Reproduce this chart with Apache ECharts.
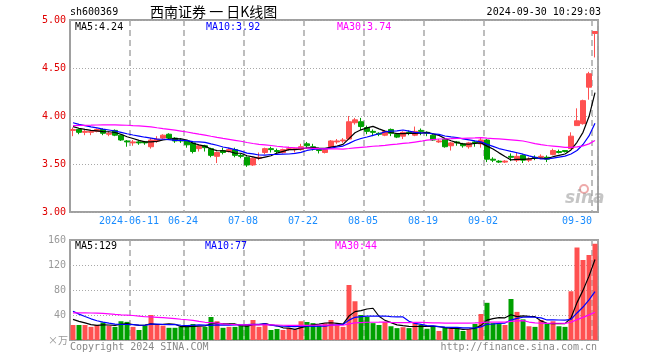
<!DOCTYPE html>
<html><head><meta charset="utf-8">
<script src="https://cdn.jsdelivr.net/npm/echarts@6/dist/echarts.min.js"></script>
<style>html,body{margin:0;padding:0;background:#fff}#c{width:660px;height:360px}</style>
</head><body><div id="c"></div>
<script>
const dates = [
'2024-05-27','2024-05-28','2024-05-29','2024-05-30','2024-05-31',
'2024-06-03','2024-06-04','2024-06-05','2024-06-06','2024-06-07','2024-06-11','2024-06-12','2024-06-13','2024-06-14',
'2024-06-17','2024-06-18','2024-06-19','2024-06-20','2024-06-21','2024-06-24','2024-06-25','2024-06-26','2024-06-27','2024-06-28',
'2024-07-01','2024-07-02','2024-07-03','2024-07-04','2024-07-05','2024-07-08','2024-07-09','2024-07-10','2024-07-11','2024-07-12',
'2024-07-15','2024-07-16','2024-07-17','2024-07-18','2024-07-19','2024-07-22','2024-07-23','2024-07-24','2024-07-25','2024-07-26',
'2024-07-29','2024-07-30','2024-07-31',
'2024-08-01','2024-08-02','2024-08-05','2024-08-06','2024-08-07','2024-08-08','2024-08-09','2024-08-12','2024-08-13','2024-08-14',
'2024-08-15','2024-08-16','2024-08-19','2024-08-20','2024-08-21','2024-08-22','2024-08-23','2024-08-26','2024-08-27','2024-08-28',
'2024-08-29','2024-08-30',
'2024-09-02','2024-09-03','2024-09-04','2024-09-05','2024-09-06','2024-09-09','2024-09-10','2024-09-11','2024-09-12','2024-09-13',
'2024-09-18','2024-09-19','2024-09-20','2024-09-23','2024-09-24','2024-09-25','2024-09-26','2024-09-27','2024-09-30'];

const opens = [3.85,3.86,3.83,3.83,3.84,3.86,3.81,3.85,3.80,3.74,3.72,3.73,3.73,3.68,3.74,3.77,3.81,3.77,3.75,3.74,
3.72,3.66,3.69,3.66,3.58,3.64,3.63,3.65,3.59,3.57,3.49,3.56,3.62,3.66,3.64,3.62,3.65,3.65,3.65,3.71,
3.68,3.65,3.62,3.68,3.73,3.74,3.76,3.93,3.94,3.88,3.84,3.82,3.80,3.86,3.81,3.79,3.83,3.80,3.85,3.83,
3.80,3.73,3.76,3.69,3.73,3.71,3.68,3.73,3.71,3.75,3.55,3.53,3.52,3.58,3.54,3.59,3.54,3.57,3.57,3.57,
3.60,3.63,3.64,3.66,3.90,3.92,4.30,4.86];
const closes = [3.86,3.83,3.84,3.84,3.86,3.82,3.82,3.80,3.75,3.73,3.73,3.72,3.72,3.75,3.76,3.80,3.77,3.74,3.74,3.70,
3.63,3.69,3.67,3.59,3.62,3.62,3.65,3.59,3.58,3.49,3.56,3.57,3.66,3.65,3.63,3.65,3.66,3.66,3.68,3.69,
3.66,3.64,3.65,3.74,3.74,3.75,3.94,3.96,3.89,3.84,3.83,3.81,3.84,3.82,3.78,3.83,3.82,3.84,3.84,3.82,
3.75,3.74,3.68,3.72,3.72,3.69,3.72,3.72,3.75,3.55,3.54,3.52,3.53,3.57,3.58,3.54,3.55,3.56,3.58,3.55,
3.64,3.62,3.63,3.79,3.95,4.16,4.44,4.88];
const lows = [3.79,3.81,3.80,3.80,3.83,3.80,3.79,3.79,3.74,3.68,3.69,3.70,3.70,3.66,3.72,3.76,3.76,3.72,3.72,3.67,
3.61,3.63,3.63,3.57,3.51,3.60,3.62,3.57,3.56,3.47,3.48,3.54,3.60,3.62,3.61,3.61,3.64,3.62,3.64,3.66,
3.64,3.61,3.61,3.67,3.71,3.72,3.75,3.91,3.85,3.81,3.79,3.79,3.79,3.79,3.77,3.76,3.80,3.79,3.80,3.79,
3.74,3.72,3.67,3.64,3.69,3.67,3.66,3.68,3.67,3.52,3.52,3.51,3.51,3.53,3.52,3.51,3.52,3.54,3.55,3.52,
3.59,3.61,3.62,3.66,3.90,3.91,4.17,4.61];
const highs = [3.88,3.87,3.86,3.85,3.87,3.87,3.84,3.86,3.81,3.75,3.75,3.74,3.74,3.77,3.79,3.81,3.82,3.78,3.77,3.75,
3.73,3.70,3.70,3.67,3.63,3.67,3.67,3.67,3.61,3.58,3.57,3.62,3.67,3.68,3.66,3.66,3.68,3.67,3.71,3.73,
3.71,3.66,3.66,3.75,3.76,3.77,4.00,3.98,3.98,3.90,3.86,3.83,3.85,3.87,3.82,3.84,3.85,3.89,3.87,3.84,
3.81,3.76,3.77,3.73,3.74,3.72,3.73,3.74,3.78,3.76,3.57,3.54,3.54,3.61,3.62,3.60,3.57,3.59,3.60,3.59,
3.66,3.65,3.64,3.83,4.08,4.17,4.46,4.88];
const volumes = [24,24,24,21,24,28,23,21,30,29,21,16,23,40,24,23,19.5,19.5,21,24,
25.6,21,21,36.8,30,19.5,21,21,24,25.6,32,21,27,16,17.6,16,19,17,30,28.8,
27,23.5,26.7,32,24,21,88,62,40,37,27,24,29,22,19,20.5,19,27.5,24,18,
22,14.5,20,18,18,14.5,17.5,25.6,41.6,59.5,27,25.5,24,65.6,45,33,22,21,32,25.6,
30,22,21,78,148,128,136,154];

// trading days before the window (inferred from the start of the MA lines)
const histCloses = [3.78,3.80,3.82,3.79,3.77,3.80,3.83,3.81,3.79,3.82,3.80,
3.88,3.95,4.02,4.05,4.01,3.98,4.03,4.00,3.98,4.00,3.98,3.96,3.97,3.94,3.92,3.90,3.89,3.88];
const histVolumes = [25,24,26,30,38,45,50,48,44,40,46,52,48,44,42,40,45,50,48,56,
70,62,58,55,50,40,36,35,30];

const labelDates = ['2024-06-11','2024-06-24','2024-07-08','2024-07-22','2024-08-05','2024-08-19','2024-09-02','2024-09-30'];
const priceMin = 3, priceMax = 5, priceStep = 0.5;
const volMin = 0, volMax = 160, volStep = 40;

function ma(n, hist, arr) {
  const all = hist.concat(arr);
  return arr.map((_, i) => {
    let s = 0;
    for (let k = 0; k < n; k++) s += all[hist.length + i - k];
    return +(s / n).toFixed(4);
  });
}
const ma5 = ma(5, histCloses, closes), ma10 = ma(10, histCloses, closes), ma30 = ma(30, histCloses, closes);
const vma5 = ma(5, histVolumes, volumes), vma10 = ma(10, histVolumes, volumes), vma30 = ma(30, histVolumes, volumes);
const last = dates.length - 1;

const RED = '#ff5050', GREEN = '#00a000';
const MONO = 'DejaVu Sans Mono';
const candle = dates.map((d, i) => [opens[i], closes[i], lows[i], highs[i]]);
const volData = volumes.map((v, i) => ({ value: v, itemStyle: { color: closes[i] >= opens[i] ? RED : GREEN } }));

const isLabel = (i) => labelDates.indexOf(dates[i]) >= 0;
const vSplit = { show: true, interval: (i) => isLabel(i), lineStyle: { color: '#a8a8a8', type: [6, 4], width: 1.5 } };
const hSplit = { show: true, lineStyle: { color: '#a8a8a8', type: [1, 2], width: 1 } };

function txt(text, x, y, color, font, align) {
  return { type: 'text', x: x, y: y, silent: true, z: 100,
    style: { text: text, fill: color, font: font, align: align || 'left', verticalAlign: 'middle',
      textAlign: align || 'left', textVerticalAlign: 'middle' } };
}
const f10 = '10px "' + MONO + '"';

const chart = echarts.init(document.getElementById('c'));
chart.setOption({
  animation: false,
  backgroundColor: '#fff',
  grid: [
    { left: 70, top: 20, width: 528, height: 192, show: true, borderColor: '#a0a0a0', borderWidth: 2, backgroundColor: 'transparent' },
    { left: 70, top: 240, width: 528, height: 100, show: true, borderColor: '#a0a0a0', borderWidth: 2, backgroundColor: 'transparent' }
  ],
  xAxis: [
    { type: 'category', gridIndex: 0, data: dates, boundaryGap: true,
      axisLine: { show: false }, axisTick: { show: false },
      axisLabel: { show: true, interval: (i) => isLabel(i), margin: 4, color: '#1a8cff', fontFamily: MONO, fontSize: 10,
        formatter: (v, i) => {
          const t = (v === labelDates[0]) ? v : v.slice(5);
          return (i === last) ? '{b|' + t + '}' : '{a|' + t + '}';
        },
        rich: { a: { padding: [0, 8, 0, 0], color: '#1a8cff', fontFamily: MONO, fontSize: 10 },
                b: { padding: [0, 36, 0, 0], color: '#1a8cff', fontFamily: MONO, fontSize: 10 } } },
      splitLine: vSplit },
    { type: 'category', gridIndex: 1, data: dates, boundaryGap: true,
      axisLine: { show: false }, axisTick: { show: false }, axisLabel: { show: false },
      splitLine: vSplit }
  ],
  yAxis: [
    { type: 'value', gridIndex: 0, min: priceMin, max: priceMax, interval: priceStep,
      axisLine: { show: false }, axisTick: { show: false },
      axisLabel: { margin: 4, color: '#e00000', fontFamily: MONO, fontSize: 10, formatter: (v) => v.toFixed(2) },
      splitLine: hSplit },
    { type: 'value', gridIndex: 1, min: volMin, max: volMax, interval: volStep,
      axisLine: { show: false }, axisTick: { show: false },
      axisLabel: { margin: 4, color: '#999', fontFamily: MONO, fontSize: 10, formatter: (v) => v === 0 ? '' : String(v) },
      splitLine: hSplit }
  ],
  series: [
    { type: 'candlestick', xAxisIndex: 0, yAxisIndex: 0, data: candle, barWidth: 5, barMinWidth: 5,
      itemStyle: { color: RED, color0: GREEN, borderColor: RED, borderColor0: GREEN, borderWidth: 1 } },
    { type: 'line', xAxisIndex: 0, yAxisIndex: 0, data: ma5, showSymbol: false, lineStyle: { color: '#000', width: 1.2 }, z: 5 },
    { type: 'line', xAxisIndex: 0, yAxisIndex: 0, data: ma10, showSymbol: false, lineStyle: { color: '#0000ff', width: 1.2 }, z: 5 },
    { type: 'line', xAxisIndex: 0, yAxisIndex: 0, data: ma30, showSymbol: false, lineStyle: { color: '#ff00ff', width: 1.2 }, z: 5 },
    { type: 'bar', xAxisIndex: 1, yAxisIndex: 1, data: volData, barWidth: 5 },
    { type: 'line', xAxisIndex: 1, yAxisIndex: 1, data: vma5, showSymbol: false, lineStyle: { color: '#000', width: 1.2 }, z: 5 },
    { type: 'line', xAxisIndex: 1, yAxisIndex: 1, data: vma10, showSymbol: false, lineStyle: { color: '#0000ff', width: 1.2 }, z: 5 },
    { type: 'line', xAxisIndex: 1, yAxisIndex: 1, data: vma30, showSymbol: false, lineStyle: { color: '#ff00ff', width: 1.2 }, z: 5 }
  ],
  graphic: [
    txt('sh600369', 70, 12, '#000', f10),
    txt('西南证券 一 日K线图', 150, 12, '#000', '14px "Noto Sans CJK SC"'),
    txt('2024-09-30 10:29:03', 601, 12, '#000', f10, 'right'),
    txt('MA5:' + ma5[last].toFixed(2), 75, 27, '#000', f10),
    txt('MA10:' + ma10[last].toFixed(2), 206, 27, '#0000ff', f10),
    txt('MA30:' + ma30[last].toFixed(2), 337, 27, '#ff00ff', f10),
    txt('MA5:' + Math.round(vma5[last]), 75, 246, '#000', f10),
    txt('MA10:' + Math.round(vma10[last]), 205, 246, '#0000ff', f10),
    txt('MA30:' + Math.round(vma30[last]), 335, 246, '#ff00ff', f10),
    txt('×万', 48, 340, '#999', '10px "Noto Sans CJK SC"'),
    txt('Copyright 2024 SINA.COM', 70, 347, '#888', f10),
    txt('http://finance.sina.com.cn', 597, 347, '#888', f10, 'right'),
    { type: 'circle', shape: { cx: 584, cy: 189, r: 4 }, silent: true, z: 1,
      style: { fill: 'none', stroke: '#eeaaaa', lineWidth: 2 } },
    txt('sina', 565, 199, 'rgba(150,150,150,0.55)', 'italic bold 17px "DejaVu Sans"')
  ]
});
</script></body></html>
